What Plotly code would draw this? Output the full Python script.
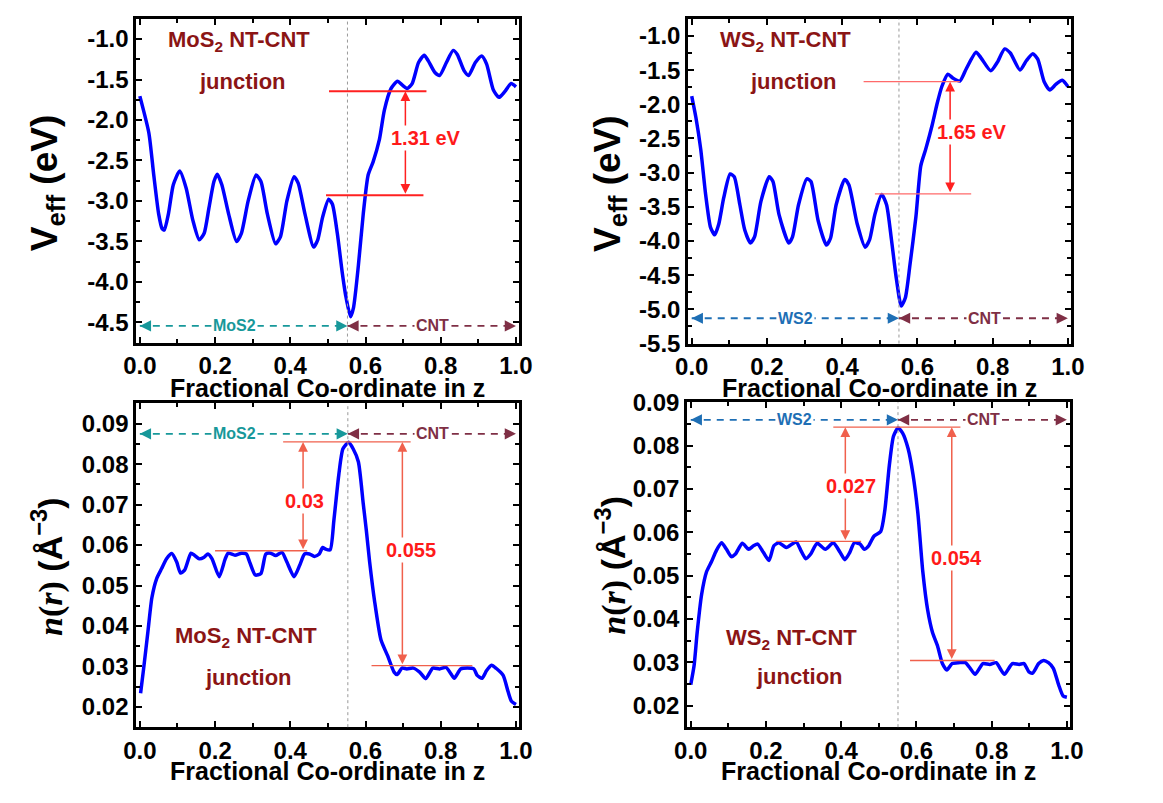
import plotly.graph_objects as go

# ---------------- data ----------------
mos2_v_x = [0.0, 0.024, 0.037, 0.05, 0.059, 0.065, 0.076, 0.089, 0.106, 0.123, 0.141, 0.158, 0.171, 0.184, 0.197, 0.206, 0.218, 0.236, 0.257, 0.27, 0.288, 0.309, 0.322, 0.339, 0.361, 0.374, 0.391, 0.41, 0.421, 0.439, 0.462, 0.473, 0.486, 0.502, 0.512, 0.525, 0.538, 0.547, 0.56, 0.568, 0.581, 0.594, 0.607, 0.62, 0.637, 0.65, 0.668, 0.685, 0.698, 0.711, 0.724, 0.741, 0.756, 0.767, 0.784, 0.797, 0.815, 0.833, 0.844, 0.862, 0.874, 0.892, 0.909, 0.922, 0.94, 0.955, 0.97, 0.987, 1.0]
mos2_v_y = [-1.705, -2.16, -2.68, -3.16, -3.34, -3.36, -3.16, -2.80, -2.63, -2.84, -3.24, -3.48, -3.40, -3.08, -2.76, -2.67, -2.80, -3.16, -3.50, -3.40, -3.0, -2.68, -2.76, -3.16, -3.53, -3.44, -3.0, -2.70, -2.78, -3.16, -3.57, -3.48, -3.20, -2.98, -3.04, -3.40, -3.88, -4.16, -4.43, -4.32, -3.80, -3.16, -2.68, -2.52, -2.24, -1.88, -1.61, -1.52, -1.57, -1.61, -1.55, -1.29, -1.20, -1.27, -1.41, -1.45, -1.29, -1.14, -1.19, -1.39, -1.45, -1.29, -1.21, -1.31, -1.63, -1.72, -1.65, -1.55, -1.59]

ws2_v_x = [0.0, 0.011, 0.024, 0.037, 0.05, 0.061, 0.072, 0.085, 0.102, 0.113, 0.128, 0.141, 0.156, 0.167, 0.184, 0.206, 0.216, 0.232, 0.258, 0.268, 0.284, 0.306, 0.317, 0.336, 0.358, 0.369, 0.384, 0.407, 0.418, 0.44, 0.461, 0.473, 0.487, 0.505, 0.518, 0.531, 0.544, 0.557, 0.568, 0.58, 0.596, 0.609, 0.622, 0.639, 0.652, 0.665, 0.681, 0.695, 0.713, 0.73, 0.756, 0.769, 0.795, 0.812, 0.832, 0.847, 0.873, 0.89, 0.907, 0.92, 0.937, 0.952, 0.968, 0.985, 1.0]
ws2_v_y = [-1.88, -2.19, -2.66, -3.32, -3.80, -3.91, -3.75, -3.37, -3.02, -3.06, -3.47, -3.84, -4.03, -3.94, -3.42, -3.06, -3.13, -3.61, -4.03, -3.94, -3.47, -3.09, -3.13, -3.70, -4.06, -3.96, -3.47, -3.10, -3.18, -3.75, -4.09, -3.98, -3.61, -3.32, -3.47, -3.98, -4.55, -4.95, -4.83, -4.36, -3.65, -2.90, -2.66, -2.31, -2.0, -1.74, -1.56, -1.62, -1.66, -1.48, -1.24, -1.32, -1.51, -1.39, -1.19, -1.25, -1.50, -1.36, -1.26, -1.34, -1.67, -1.79, -1.71, -1.65, -1.74]

mos2_n_x = [0.002, 0.010, 0.021, 0.032, 0.045, 0.058, 0.071, 0.085, 0.098, 0.108, 0.119, 0.136, 0.145, 0.158, 0.171, 0.181, 0.192, 0.211, 0.227, 0.235, 0.253, 0.27, 0.283, 0.292, 0.307, 0.322, 0.335, 0.348, 0.361, 0.378, 0.391, 0.41, 0.425, 0.438, 0.451, 0.464, 0.477, 0.486, 0.494, 0.506, 0.516, 0.529, 0.54, 0.555, 0.567, 0.581, 0.594, 0.602, 0.611, 0.624, 0.641, 0.659, 0.676, 0.684, 0.697, 0.71, 0.727, 0.744, 0.76, 0.779, 0.797, 0.814, 0.827, 0.836, 0.853, 0.871, 0.888, 0.897, 0.91, 0.922, 0.935, 0.948, 0.966, 0.979, 0.988, 1.0]
mos2_n_y = [0.0234, 0.0294, 0.0382, 0.047, 0.0518, 0.0542, 0.0566, 0.0579, 0.0558, 0.0531, 0.0538, 0.058, 0.0575, 0.0566, 0.057, 0.0578, 0.0566, 0.0522, 0.0566, 0.058, 0.0575, 0.058, 0.0578, 0.0558, 0.0526, 0.053, 0.0578, 0.058, 0.0574, 0.0582, 0.0558, 0.0522, 0.055, 0.0578, 0.0578, 0.0572, 0.0578, 0.0594, 0.059, 0.0588, 0.0662, 0.0774, 0.0838, 0.0854, 0.0838, 0.0806, 0.0702, 0.0638, 0.0558, 0.0462, 0.0366, 0.0326, 0.0286, 0.028, 0.0296, 0.0294, 0.0296, 0.0286, 0.027, 0.0296, 0.0294, 0.0298, 0.0282, 0.0271, 0.0294, 0.0296, 0.0294, 0.0278, 0.0271, 0.029, 0.0303, 0.0295, 0.0278, 0.0238, 0.0214, 0.0206]

ws2_n_x = [0.0, 0.009, 0.017, 0.029, 0.042, 0.055, 0.068, 0.082, 0.095, 0.108, 0.119, 0.137, 0.154, 0.167, 0.178, 0.193, 0.208, 0.221, 0.234, 0.254, 0.28, 0.293, 0.306, 0.319, 0.336, 0.358, 0.379, 0.397, 0.41, 0.423, 0.435, 0.45, 0.461, 0.473, 0.487, 0.505, 0.516, 0.528, 0.539, 0.551, 0.563, 0.578, 0.591, 0.604, 0.617, 0.63, 0.643, 0.656, 0.669, 0.681, 0.695, 0.713, 0.73, 0.743, 0.756, 0.777, 0.795, 0.812, 0.825, 0.834, 0.855, 0.873, 0.886, 0.899, 0.909, 0.925, 0.938, 0.951, 0.964, 0.978, 0.99, 1.0]
ws2_n_y = [0.0248, 0.0293, 0.0368, 0.0457, 0.0509, 0.0532, 0.0558, 0.0576, 0.0561, 0.0544, 0.055, 0.0575, 0.0561, 0.0569, 0.0573, 0.0554, 0.0535, 0.0569, 0.0576, 0.0565, 0.0578, 0.0558, 0.0539, 0.055, 0.0575, 0.0561, 0.0576, 0.0554, 0.0537, 0.0554, 0.0576, 0.0573, 0.0561, 0.0569, 0.0591, 0.0602, 0.0651, 0.0755, 0.0822, 0.0841, 0.083, 0.0793, 0.0733, 0.0643, 0.0509, 0.042, 0.0368, 0.0338, 0.0297, 0.0282, 0.0297, 0.0299, 0.0299, 0.0286, 0.0272, 0.0297, 0.0295, 0.0299, 0.0282, 0.0272, 0.0297, 0.0295, 0.0297, 0.0278, 0.0275, 0.0297, 0.0304, 0.0299, 0.0286, 0.0248, 0.0222, 0.0219]

x_ticks = [0.0, 0.2, 0.4, 0.6, 0.8, 1.0]
v1_ticks = [-1.0, -1.5, -2.0, -2.5, -3.0, -3.5, -4.0, -4.5]
v2_ticks = [-1.0, -1.5, -2.0, -2.5, -3.0, -3.5, -4.0, -4.5, -5.0, -5.5]
n1_ticks = [0.02, 0.03, 0.04, 0.05, 0.06, 0.07, 0.08, 0.09]
n2_ticks = [0.02, 0.03, 0.04, 0.05, 0.06, 0.07, 0.08, 0.09]

# ---------------- figure ----------------
W, H = 1163, 803
SANS = "Liberation Sans, Arial, sans-serif"
fig = go.Figure()

panels = [
    dict(k="", xd=(126, 518), yd=(5, 340), yr=[-4.75, -0.75], yt=v1_ticks, fmt="{:.1f}", mn=0.25, x=mos2_v_x, y=mos2_v_y),
    dict(k="2", xd=(691, 1083), yd=(5, 341), yr=[-5.5, -0.75], yt=v2_ticks, fmt="{:.1f}", mn=0.25, x=ws2_v_x, y=ws2_v_y),
    dict(k="3", xd=(126, 518), yd=(403, 738), yr=[0.015, 0.095], yt=n1_ticks, fmt="{:.2f}", mn=0.005, x=mos2_n_x, y=mos2_n_y),
    dict(k="4", xd=(690, 1082), yd=(402, 738), yr=[0.015, 0.09], yt=n2_ticks, fmt="{:.2f}", mn=0.005, x=ws2_n_x, y=ws2_n_y),
]

tickfont = dict(family=SANS, size=24, color="black", weight="bold")
for p in panels:
    k = p["k"]
    xa = dict(domain=[p["xd"][0] / W, p["xd"][1] / W], range=[-0.01, 1.008],
              anchor="y" + k, tickvals=x_ticks, ticktext=[f"{v:.1f}" for v in x_ticks],
              ticks="inside", ticklen=6, tickwidth=2, tickcolor="black",
              minor=dict(tickvals=[0.1, 0.3, 0.5, 0.7, 0.9], ticks="inside", ticklen=4, tickwidth=1.5, tickcolor="black"),
              showline=True, linewidth=2.5, linecolor="black", mirror="ticks",
              showgrid=False, zeroline=False, tickfont=tickfont)
    allv = sorted(p["yt"])
    mvals = [(allv[i] + allv[i + 1]) / 2 for i in range(len(allv) - 1)]
    mvals.append(allv[-1] + p["mn"])
    ya = dict(domain=[1 - p["yd"][1] / H, 1 - p["yd"][0] / H], range=p["yr"],
              anchor="x" + k, tickvals=p["yt"], ticktext=[p["fmt"].format(t) for t in p["yt"]],
              ticks="inside", ticklen=6, tickwidth=2, tickcolor="black",
              minor=dict(tickvals=mvals, ticks="inside", ticklen=4, tickwidth=1.5, tickcolor="black"),
              showline=True, linewidth=2.5, linecolor="black", mirror="ticks",
              showgrid=False, zeroline=False, tickfont=tickfont)
    fig.update_layout(**{"xaxis" + k: xa, "yaxis" + k: ya})
    fig.add_trace(go.Scatter(x=p["x"], y=p["y"], mode="lines", xaxis="x" + k, yaxis="y" + k,
                             line=dict(color="#0000ff", width=3.5, shape="spline", smoothing=0.6),
                             showlegend=False, hoverinfo="skip"))

shapes = []
ann = []

DARKRED = "#8b1515"
TEAL = "#17989a"
WSBLUE = "#1e6fb5"
MAROON = "#7f2f45"


def hline(k, x0, x1, y, color, w=1.5):
    shapes.append(dict(type="line", xref="x" + k, yref="y" + k, x0=x0, x1=x1, y0=y, y1=y,
                       line=dict(color=color, width=w)))


def darrow(k, x, y0, y1, color):
    ann.append(dict(xref="x" + k, yref="y" + k, axref="x" + k, ayref="y" + k, x=x, y=y0, ax=x, ay=y1,
                    text="", showarrow=True, arrowside="end+start", arrowhead=2, arrowsize=1.3,
                    arrowwidth=1.5, arrowcolor=color, standoff=0, startstandoff=0))


def label(k, x, y, text, color, size, bg=None):
    d = dict(xref="x" + k, yref="y" + k, x=x, y=y, text=text, showarrow=False,
             xanchor="center", yanchor="middle",
             font=dict(family=SANS, size=size, color=color, weight="bold"))
    if bg:
        d["bgcolor"] = bg
        d["borderpad"] = 1
    ann.append(d)


def region_arrows(k, y, mid, lname, lcolor, lx):
    shapes.append(dict(type="line", xref="x" + k, yref="y" + k, x0=0.0, x1=mid, y0=y, y1=y,
                       line=dict(color=lcolor, width=1.8, dash="7px,6px")))
    shapes.append(dict(type="line", xref="x" + k, yref="y" + k, x0=mid, x1=1.0, y0=y, y1=y,
                       line=dict(color=MAROON, width=1.8, dash="7px,6px")))
    for (tx, fx, c) in [(0.0, 0.015, lcolor), (mid, mid - 0.015, lcolor), (mid, mid + 0.015, MAROON), (1.0, 0.985, MAROON)]:
        ann.append(dict(xref="x" + k, yref="y" + k, axref="x" + k, ayref="y" + k, x=tx, y=y, ax=fx, ay=y,
                        text="", showarrow=True, arrowhead=2, arrowsize=1.4, arrowwidth=1.6,
                        arrowcolor=c, standoff=0))
    label(k, lx, y, lname, lcolor, 16, bg="white")
    label(k, 0.778, y, "CNT", MAROON, 16, bg="white")


def vdot(k, x):
    shapes.append(dict(type="line", xref="x" + k, yref="y" + k + " domain", x0=x, x1=x, y0=0, y1=1,
                       line=dict(color="#999999", width=1, dash="dot")))


# Panel 1 (MoS2 Veff)
vdot("", 0.552)
hline("", 0.503, 0.762, -1.645, "#ff2020", 1.8)
hline("", 0.495, 0.754, -2.93, "#ff2020", 1.8)
darrow("", 0.706, -1.645, -2.93, "#ff2020")
label("", 0.76, -2.22, "1.31 eV", "#ff1a1a", 20, bg="white")
region_arrows("", -4.545, 0.552, "MoS2", TEAL, 0.253)
label("", 0.264, -1.03, "MoS<sub>2</sub> NT-CNT", DARKRED, 22)
label("", 0.274, -1.53, "junction", DARKRED, 22)

# Panel 2 (WS2 Veff)
vdot("2", 0.551)
hline("2", 0.457, 0.713, -1.67, "#ff6a6a", 1.3)
hline("2", 0.487, 0.743, -3.31, "#ff6a6a", 1.3)
darrow("2", 0.687, -1.67, -3.31, "#ff2020")
label("2", 0.746, -2.40, "1.65 eV", "#ff1a1a", 20, bg="white")
region_arrows("2", -5.13, 0.551, "WS2", WSBLUE, 0.275)
label("2", 0.249, -1.08, "WS<sub>2</sub> NT-CNT", DARKRED, 22)
label("2", 0.271, -1.67, "junction", DARKRED, 22)

# Panel 3 (MoS2 n(r))
LC = "#f0604c"
vdot("3", 0.553)
hline("3", 0.381, 0.72, 0.0855, LC, 1.3)
hline("3", 0.20, 0.445, 0.0586, LC, 1.3)
hline("3", 0.616, 0.884, 0.0302, LC, 1.3)
darrow("3", 0.434, 0.0855, 0.0586, LC)
darrow("3", 0.698, 0.0855, 0.0302, LC)
label("3", 0.437, 0.0708, "0.03", "#ff1a1a", 20, bg="white")
label("3", 0.722, 0.0588, "0.055", "#ff1a1a", 20, bg="white")
region_arrows("3", 0.0875, 0.553, "MoS2", TEAL, 0.252)
label("3", 0.283, 0.0374, "MoS<sub>2</sub> NT-CNT", DARKRED, 22)
label("3", 0.288, 0.0274, "junction", DARKRED, 22)

# Panel 4 (WS2 n(r))
vdot("4", 0.551)
hline("4", 0.379, 0.717, 0.0843, LC, 1.3)
hline("4", 0.228, 0.453, 0.0579, LC, 1.3)
hline("4", 0.583, 0.808, 0.0304, LC, 1.3)
darrow("4", 0.411, 0.0843, 0.0579, LC)
darrow("4", 0.694, 0.0843, 0.0304, LC)
label("4", 0.425, 0.0707, "0.027", "#ff1a1a", 20, bg="white")
label("4", 0.706, 0.0541, "0.054", "#ff1a1a", 20, bg="white")
region_arrows("4", 0.086, 0.551, "WS2", WSBLUE, 0.275)
label("4", 0.267, 0.0353, "WS<sub>2</sub> NT-CNT", DARKRED, 22)
label("4", 0.288, 0.0266, "junction", DARKRED, 22)

# Axis titles
for (cx, cy) in [(322, 387), (887, 387), (322, 783), (886, 783)]:
    ann.append(dict(xref="paper", yref="paper", x=cx / W, y=1 - cy / H, text="Fractional Co-ordinate in z",
                    xanchor="center", yanchor="middle",
                    showarrow=False, font=dict(family=SANS, size=25, color="black", weight="bold")))

veff = "V<sub>eff</sub> (eV)"
nr = ('<span style="font-family:Liberation Serif,Times New Roman,serif"><i>n</i>(<i>r</i>)</span>'
      ' (Å<sup>−3</sup>)')
for (cx, cy, t, s) in [(35, 175, veff, 37), (611, 175, veff, 37), (35, 572, nr, 34), (612, 570, nr, 34)]:
    ann.append(dict(xref="paper", yref="paper", x=cx / W, y=1 - cy / H, text=t, textangle=-90,
                    xanchor="center", yanchor="middle",
                    showarrow=False, font=dict(family=SANS, size=s, color="black", weight="bold")))

fig.update_layout(width=W, height=H, margin=dict(l=0, r=0, t=0, b=0),
                  paper_bgcolor="white", plot_bgcolor="white",
                  shapes=shapes, annotations=ann, showlegend=False)

fig.write_html("out.html")
